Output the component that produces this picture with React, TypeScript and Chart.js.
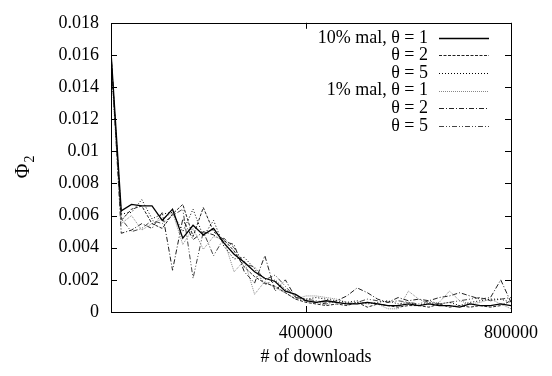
import React, { useEffect, useRef } from "react";
import { Chart, registerables } from "chart.js";

Chart.register(...registerables);

const xValues = [
  20000, 40000, 60000, 80000, 100000, 120000, 140000, 160000, 180000, 200000,
  220000, 240000, 260000, 280000, 300000, 320000, 340000, 360000, 380000, 400000,
  420000, 440000, 460000, 480000, 500000, 520000, 540000, 560000, 580000, 600000,
  620000, 640000, 660000, 680000, 700000, 720000, 740000, 760000, 780000, 800000,
];

const mal10Theta1 = [
  0.0162, 0.0063, 0.0067, 0.0066, 0.0066, 0.0057, 0.0064, 0.0046, 0.0054, 0.0048,
  0.0052, 0.0043, 0.0036, 0.0031, 0.0025, 0.0021, 0.0019, 0.0013, 0.0011, 0.0007,
  0.0006, 0.0007, 0.0006, 0.0005, 0.0005, 0.0006, 0.0005, 0.0004, 0.0004, 0.0005,
  0.0004, 0.0005, 0.0004, 0.0004, 0.0003, 0.0005, 0.0004, 0.0004, 0.0005, 0.0004,
];
const mal10Theta2 = [
  0.016, 0.0057, 0.0064, 0.0066, 0.0055, 0.0052, 0.0061, 0.0067, 0.0047, 0.0065,
  0.005, 0.0045, 0.0038, 0.0028, 0.0022, 0.0018, 0.0016, 0.0012, 0.0008, 0.0006,
  0.0005, 0.0004, 0.0005, 0.0004, 0.0006, 0.0003, 0.0005, 0.0004, 0.0003, 0.0004,
  0.0004, 0.0003, 0.0005, 0.0003, 0.0004, 0.0003, 0.0004, 0.0003, 0.0004, 0.0007,
];
const mal10Theta5 = [
  0.0158, 0.0061, 0.0062, 0.007, 0.0058, 0.0061, 0.0062, 0.005, 0.0064, 0.0047,
  0.0057, 0.0041, 0.0033, 0.0034, 0.0027, 0.0017, 0.002, 0.0014, 0.001, 0.0008,
  0.0009, 0.0008, 0.0007, 0.0006, 0.0007, 0.0005, 0.0006, 0.0007, 0.0005, 0.0006,
  0.0004, 0.0006, 0.0005, 0.0006, 0.0004, 0.0006, 0.0007, 0.0008, 0.0008, 0.0006,
];
const mal1Theta1 = [
  0.0155, 0.0055, 0.006, 0.0051, 0.0055, 0.0058, 0.0062, 0.0042, 0.0052, 0.0039,
  0.0047, 0.0045, 0.0025, 0.0032, 0.0011, 0.0019, 0.0015, 0.0012, 0.0008, 0.001,
  0.001, 0.0009, 0.0008, 0.0006, 0.0005, 0.0006, 0.0005, 0.0002, 0.0002, 0.0013,
  0.0008, 0.0005, 0.0006, 0.0013, 0.0007, 0.0005, 0.0006, 0.0008, 0.0005, 0.0002,
];
const mal1Theta2 = [
  0.0162, 0.0049, 0.0051, 0.0055, 0.0052, 0.0062, 0.0026, 0.0058, 0.0045, 0.005,
  0.0048, 0.0044, 0.0042, 0.0025, 0.0018, 0.0035, 0.0013, 0.002, 0.0009, 0.0007,
  0.0006, 0.0005, 0.0007, 0.001, 0.0015, 0.0012, 0.0008, 0.0006, 0.0009, 0.0007,
  0.0008, 0.0007, 0.0009, 0.001, 0.0012, 0.001, 0.0008, 0.0009, 0.002, 0.0006,
];
const mal1Theta5 = [
  0.016, 0.0058, 0.005, 0.0052, 0.0057, 0.0055, 0.006, 0.0064, 0.0021, 0.005,
  0.0035, 0.0046, 0.004, 0.003, 0.0028, 0.002, 0.0023, 0.0016, 0.0009, 0.0008,
  0.0007, 0.0006, 0.0006, 0.0005, 0.0006, 0.0008, 0.0007, 0.0006, 0.0007, 0.0006,
  0.0005, 0.0007, 0.0005, 0.0006, 0.0007, 0.0008, 0.0009, 0.0007, 0.0008, 0.0009,
];

const seriesLabels = [
  "10% mal, θ = 1",
  "θ = 2",
  "θ = 5",
  "1% mal, θ = 1",
  "θ = 2",
  "θ = 5",
];
const xTickValues = [400000, 800000];
const yTickStep = 0.002;
const yMax = 0.018;
const xTitle = "# of downloads";
const yTitle = "Φ";
const yTitleSub = "2";

const FONT = "'Liberation Serif', 'Times New Roman', serif";

const styles = [
  { color: "#000", dash: [], width: 1.3 },
  { color: "#222", dash: [3, 1.5], width: 1 },
  { color: "#000", dash: [1, 2], width: 1 },
  { color: "#888", dash: [1, 1], width: 1 },
  { color: "#222", dash: [5, 2, 1, 2], width: 1 },
  { color: "#444", dash: [5, 2, 1, 2, 1, 2], width: 1 },
];

const seriesData = [mal10Theta1, mal10Theta2, mal10Theta5, mal1Theta1, mal1Theta2, mal1Theta5];

const framePlugin = {
  id: "frame",
  afterDraw(chart: any) {
    const ctx = chart.ctx;
    const { left, right, top, bottom } = chart.chartArea;
    const xs = chart.scales.x;
    const ys = chart.scales.y;
    ctx.save();
    ctx.strokeStyle = "#000";
    ctx.lineWidth = 1;
    ctx.setLineDash([]);
    ctx.strokeRect(Math.round(left) + 0.5, Math.round(top) + 0.5, Math.round(right - left), Math.round(bottom - top));
    const tl = 6;
    ctx.beginPath();
    ys.ticks.forEach((t: any) => {
      const y = Math.round(ys.getPixelForValue(t.value)) + 0.5;
      ctx.moveTo(left, y);
      ctx.lineTo(left + tl, y);
      ctx.moveTo(right, y);
      ctx.lineTo(right - tl, y);
    });
    xs.ticks.forEach((t: any) => {
      const x = Math.round(xs.getPixelForValue(t.value)) + 0.5;
      ctx.moveTo(x, bottom);
      ctx.lineTo(x, bottom - tl);
      ctx.moveTo(x, top);
      ctx.lineTo(x, top + tl);
    });
    ctx.stroke();

    // legend
    ctx.font = `18px ${FONT}`;
    ctx.fillStyle = "#000";
    ctx.textAlign = "right";
    ctx.textBaseline = "middle";
    chart.data.datasets.forEach((ds: any, i: number) => {
      const y = top + 15 + i * 17.6;
      ctx.fillText(ds.label, right - 83, y);
      ctx.beginPath();
      ctx.strokeStyle = ds.borderColor;
      ctx.lineWidth = ds.borderWidth;
      ctx.setLineDash(ds.borderDash || []);
      ctx.moveTo(right - 72, Math.round(y) + 0.5);
      ctx.lineTo(right - 22, Math.round(y) + 0.5);
      ctx.stroke();
    });
    ctx.setLineDash([]);

    // axis titles
    ctx.fillStyle = "#000";
    ctx.textAlign = "center";
    ctx.textBaseline = "middle";
    ctx.font = `18px ${FONT}`;
    ctx.fillText(xTitle, (left + right) / 2 + 5, 357);

    ctx.translate(24, (top + bottom) / 2);
    ctx.rotate(-Math.PI / 2);
    ctx.textAlign = "left";
    ctx.font = `20px ${FONT}`;
    const w = ctx.measureText(yTitle).width;
    ctx.font = `14px ${FONT}`;
    const ws = ctx.measureText(yTitleSub).width;
    const start = -(w + ws) / 2;
    ctx.font = `20px ${FONT}`;
    ctx.fillText(yTitle, start, 0);
    ctx.font = `14px ${FONT}`;
    ctx.fillText(yTitleSub, start + w + 1, 6);
    ctx.restore();
  },
};

export default function App() {
  const ref = useRef<HTMLCanvasElement | null>(null);
  useEffect(() => {
    if (!ref.current) return;
    const chart = new Chart(ref.current, {
      type: "line",
      data: {
        labels: xValues,
        datasets: seriesData.map((d, i) => ({
          label: seriesLabels[i],
          data: d.map((v, j) => ({ x: xValues[j], y: v })),
          borderColor: styles[i].color,
          borderDash: styles[i].dash,
          borderWidth: styles[i].width,
          pointRadius: 0,
          tension: 0,
          fill: false,
        })),
      },
      options: {
        animation: false,
        responsive: false,
        layout: { padding: { top: 13, right: 41, left: 0, bottom: 0 } },
        plugins: { legend: { display: false }, tooltip: { enabled: false } },
        scales: {
          x: {
            type: "linear",
            min: 20000,
            max: 800000,
            afterBuildTicks: (s: any) => {
              s.ticks = xTickValues.map((v) => ({ value: v }));
            },
            afterFit: (s: any) => {
              s.height = 64;
            },
            grid: { display: false, drawTicks: false },
            border: { display: false },
            ticks: {
              padding: 10,
              maxRotation: 0,
              autoSkip: false,
              color: "#000",
              font: { family: FONT, size: 18 },
              callback: (v: any) => String(v),
            },
          },
          y: {
            type: "linear",
            min: 0,
            max: yMax,
            afterFit: (s: any) => {
              s.width = 111;
            },
            grid: { display: false, drawTicks: false },
            border: { display: false },
            ticks: {
              stepSize: yTickStep,
              padding: 12,
              color: "#000",
              font: { family: FONT, size: 18 },
              callback: (v: any) => String(+Number(v).toFixed(3)),
            },
          },
        },
      },
      plugins: [framePlugin],
    } as any);
    return () => chart.destroy();
  }, []);
  return (
    <canvas
      ref={ref}
      width={552}
      height={376}
      style={{ position: "fixed", left: 0, top: 0, width: 552, height: 376 }}
    />
  );
}
